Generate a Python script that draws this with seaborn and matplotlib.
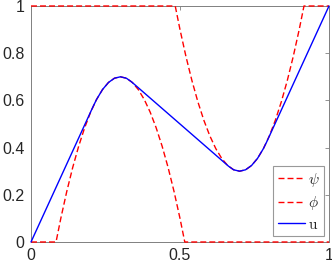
import matplotlib
matplotlib.use("Agg")
import matplotlib.pyplot as plt
import seaborn as sns

# valores
psi_x = [0.0, 0.084, 0.10, 0.12, 0.14, 0.16, 0.18, 0.20, 0.22, 0.24, 0.26, 0.28, 0.30,
         0.32, 0.34, 0.36, 0.38, 0.40, 0.42, 0.44, 0.46, 0.48, 0.50, 0.516, 1.0]
psi_y = [0.0, 0.0, 0.10, 0.214, 0.316, 0.406, 0.484, 0.55, 0.604, 0.646, 0.676, 0.694, 0.70,
         0.694, 0.676, 0.646, 0.604, 0.55, 0.484, 0.406, 0.316, 0.214, 0.10, 0.0, 0.0]

phi_x = [0.0, 0.484, 0.50, 0.52, 0.54, 0.56, 0.58, 0.60, 0.62, 0.64, 0.66, 0.68, 0.70,
         0.72, 0.74, 0.76, 0.78, 0.80, 0.82, 0.84, 0.86, 0.88, 0.90, 0.916, 1.0]
phi_y = [1.0, 1.0, 0.90, 0.786, 0.684, 0.594, 0.516, 0.45, 0.396, 0.354, 0.324, 0.306, 0.30,
         0.306, 0.324, 0.354, 0.396, 0.45, 0.516, 0.594, 0.684, 0.786, 0.90, 1.0, 1.0]

u_x = [0.0, 0.208, 0.22, 0.24, 0.26, 0.28, 0.30, 0.32, 0.337,
       0.663, 0.68, 0.70, 0.72, 0.74, 0.76, 0.78, 0.792, 1.0]
u_y = [0.0, 0.573, 0.604, 0.646, 0.676, 0.694, 0.70, 0.694, 0.679,
       0.321, 0.306, 0.30, 0.306, 0.324, 0.354, 0.396, 0.427, 1.0]

xticks = [0, 0.5, 1]
xtick_labels = ["0", "0.5", "1"]
yticks = [0, 0.2, 0.4, 0.6, 0.8, 1]
ytick_labels = ["0", "0.2", "0.4", "0.6", "0.8", "1"]


def main():
    sns.set_style("white")
    plt.rcParams["font.family"] = ["Liberation Sans", "DejaVu Sans"]
    plt.rcParams["mathtext.fontset"] = "cm"

    fig = plt.figure(figsize=(3.32, 2.67), dpi=100)
    ax = fig.add_axes([31 / 332, 25 / 267, 298 / 332, 236 / 267])

    dash = (4.3, 2.2)
    sns.lineplot(x=psi_x, y=psi_y, ax=ax, color="#ff0000", lw=1.0, sort=False,
                 estimator=None, label=r"$\psi$")
    sns.lineplot(x=phi_x, y=phi_y, ax=ax, color="#ff0000", lw=1.0, sort=False,
                 estimator=None, label=r"$\phi$")
    sns.lineplot(x=u_x, y=u_y, ax=ax, color="#0000ff", lw=1.0, sort=False,
                 estimator=None, label=r"$\mathrm{u}$")
    for ln in ax.lines[:2]:
        ln.set_dashes(dash)
    for ln in ax.lines:
        ln.set_clip_on(False)
        ln.set_zorder(5)

    ax.set_xlim(0, 1)
    ax.set_ylim(0, 1)
    ax.set_xticks(xticks)
    ax.set_xticklabels(xtick_labels)
    ax.set_yticks(yticks)
    ax.set_yticklabels(ytick_labels)
    for s in ax.spines.values():
        s.set_visible(True)
        s.set_color("#808080")
        s.set_linewidth(0.7)
    ax.tick_params(direction="in", top=True, right=True, length=3, width=0.6,
                   color="#808080", labelsize=11.5, labelcolor="#262626", pad=4.5)

    leg = ax.legend(loc="lower right", bbox_to_anchor=(0.983, 0.025), borderaxespad=0,
                    fancybox=False, edgecolor="#999999", framealpha=1, fontsize=11,
                    handlelength=1.75, handletextpad=0.2, labelspacing=0.35, borderpad=0.3)
    leg.get_frame().set_linewidth(0.8)
    for h in leg.get_lines()[:2]:
        h.set_dashes(dash)

    fig.savefig("out.png", dpi=100)


if __name__ == "__main__":
    main()
